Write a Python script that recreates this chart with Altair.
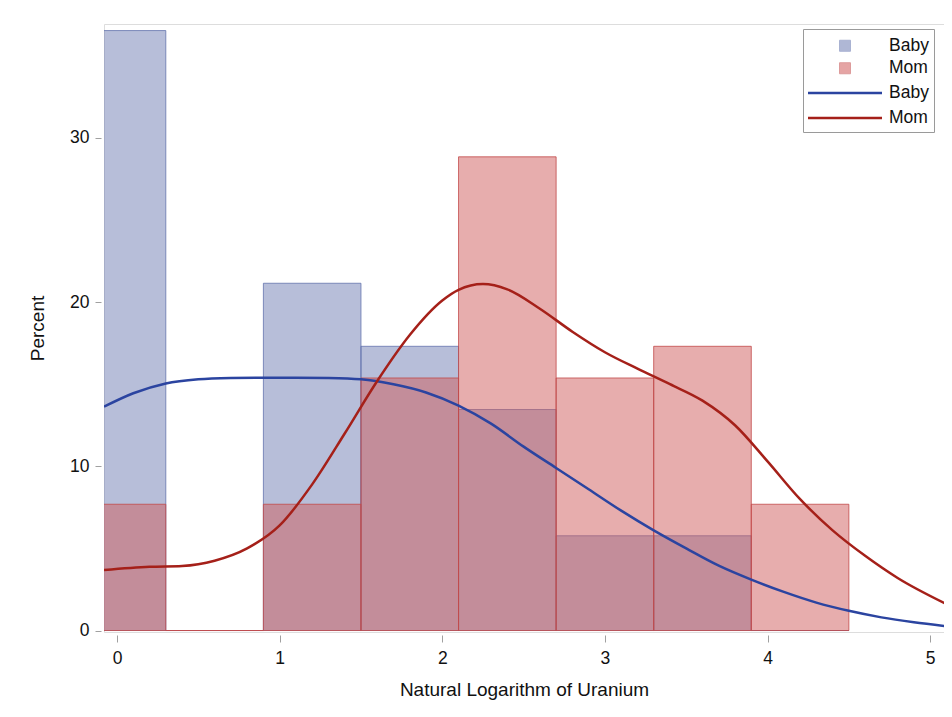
import altair as alt
import pandas as pd

# ---------------- data ----------------
bin_start = [-0.3, 0.3, 0.9, 1.5, 2.1, 2.7, 3.3, 3.9]
bin_end = [0.3, 0.9, 1.5, 2.1, 2.7, 3.3, 3.9, 4.5]
baby_pct = [36.54, 0.0, 21.15, 17.31, 13.46, 5.77, 5.77, 0.0]
mom_pct = [7.69, 0.0, 7.69, 15.38, 28.85, 15.38, 17.31, 7.69]

baby_kde_x = [-0.08, 0.1, 0.3, 0.5, 0.7, 0.9, 1.1, 1.3, 1.5, 1.7, 1.9, 2.1, 2.3, 2.5,
              2.7, 2.9, 3.1, 3.3, 3.5, 3.7, 3.9, 4.1, 4.3, 4.5, 4.7, 4.9, 5.09]
baby_kde_y = [13.63, 14.45, 15.05, 15.3, 15.38, 15.4, 15.4, 15.38, 15.3, 15.0, 14.5, 13.7, 12.6, 11.2,
              9.9, 8.6, 7.3, 6.1, 5.0, 3.95, 3.1, 2.35, 1.7, 1.2, 0.8, 0.5, 0.27]

mom_kde_x = [-0.08, 0.2, 0.4, 0.6, 0.8, 1.0, 1.2, 1.4, 1.6, 1.8, 2.0, 2.1, 2.25, 2.4,
             2.6, 2.8, 3.0, 3.2, 3.4, 3.6, 3.8, 4.0, 4.2, 4.4, 4.6, 4.8, 5.09]
mom_kde_y = [3.68, 3.88, 3.93, 4.25, 5.0, 6.4, 8.9, 12.0, 15.2, 18.0, 20.1, 20.75, 21.1, 20.78,
             19.6, 18.2, 16.95, 15.95, 15.0, 14.0, 12.5, 10.3, 8.0, 6.1, 4.55, 3.2, 1.66]

groups = ["Baby", "Mom"]
curve_keys = ["Baby curve", "Mom curve"]
fill_colors = ["#6F7EB3", "#D05B5B"]
outline_colors = ["#6474AE", "#C24A4A"]
line_colors = ["#2B44A0", "#A52019"]

# ---------------- tables ----------------
hist_rows = []
for grp, vals in zip(groups, (baby_pct, mom_pct)):
    for s, e, v in zip(bin_start, bin_end, vals):
        hist_rows.append({"group": grp, "start": s, "end": e, "pct": v})
hist_df = pd.DataFrame(hist_rows)

kde_rows = []
for key, xs, ys in zip(curve_keys, (baby_kde_x, mom_kde_x), (baby_kde_y, mom_kde_y)):
    for xv, yv in zip(xs, ys):
        kde_rows.append({"curve": key, "start": xv, "pct": yv})
kde_df = pd.DataFrame(kde_rows)

FONT = "Liberation Sans"
TXT = "#111111"
LABEL_FS = 17.5
TITLE_FS = 19

legend_hist = alt.Legend(
    title=None,
    orient="none",
    legendX=699,
    legendY=8,
    direction="vertical",
    padding=5,
    symbolType="square",
    symbolSize=121,
    symbolStrokeWidth=1,
    symbolOpacity=0.55,
    symbolOffset=28.25,
    labelOffset=35.25,
    rowPadding=3.5,
    labelFont=FONT,
    labelFontSize=LABEL_FS,
    labelColor=TXT,
    zindex=2,
)

legend_kde = alt.Legend(
    title=[" ", " "],
    titleLineHeight=22,
    titlePadding=10,
    titleFontSize=LABEL_FS,
    orient="none",
    legendX=699,
    legendY=5,
    direction="vertical",
    padding=5,
    strokeColor="#9a9a9a",
    symbolType="M-4.625,0H4.625",
    symbolSize=256,
    symbolStrokeWidth=2.5,
    symbolOffset=27.5,
    labelOffset=34.5,
    rowPadding=7,
    labelFont=FONT,
    labelFontSize=LABEL_FS,
    labelColor=TXT,
    labelExpr="split(datum.label, ' ')[0]",
    zindex=1,
)

x_axis = alt.Axis(
    values=[0, 1, 2, 3, 4, 5],
    title="Natural Logarithm of Uranium",
    grid=False,
    domain=False,
    offset=3,
    tickColor="#a0a0a0",
    tickSize=7,
    labelPadding=7,
    labelFont=FONT,
    labelFontSize=LABEL_FS,
    labelColor=TXT,
    titleFont=FONT,
    titleFontSize=TITLE_FS,
    titleFontWeight="normal",
    titleColor=TXT,
    titlePadding=14,
    format="d",
)
y_axis = alt.Axis(
    values=[0, 10, 20, 30],
    title="Percent",
    grid=False,
    domain=False,
    offset=3,
    tickColor="#a0a0a0",
    tickSize=6,
    labelPadding=6,
    labelFont=FONT,
    labelFontSize=LABEL_FS,
    labelColor=TXT,
    titleFont=FONT,
    titleFontSize=TITLE_FS,
    titleFontWeight="normal",
    titleColor=TXT,
    titlePadding=22,
    format="d",
)

x_scale = alt.Scale(domain=[-0.08, 5.085], nice=False, zero=False)
y_scale = alt.Scale(domain=[-0.09, 36.94], nice=False, zero=False)
fill_scale = alt.Scale(domain=groups, range=fill_colors)
outline_scale = alt.Scale(domain=groups, range=outline_colors)
line_scale = alt.Scale(domain=curve_keys, range=line_colors)

base_hist = alt.Chart(hist_df)


def fill_layer(g):
    return base_hist.transform_filter(alt.datum.group == g).mark_bar(
        fillOpacity=0.5, strokeWidth=0, clip=True
    ).encode(
        x=alt.X("start:Q", scale=x_scale, axis=x_axis),
        x2="end:Q",
        y=alt.Y("pct:Q", scale=y_scale, axis=y_axis, stack=None),
        y2=alt.Y2Datum(0),
        fill=alt.Fill("group:N", scale=fill_scale, legend=legend_hist),
    )


def outline_layer(g):
    return base_hist.transform_filter(alt.datum.group == g).mark_bar(
        filled=False, strokeWidth=1, strokeOpacity=0.8, clip=True
    ).encode(
        x=alt.X("start:Q", scale=x_scale, axis=x_axis),
        x2="end:Q",
        y=alt.Y("pct:Q", scale=y_scale, axis=y_axis, stack=None),
        y2=alt.Y2Datum(0),
        color=alt.Color("group:N", scale=outline_scale, legend=None),
    )


lines = alt.Chart(kde_df).mark_line(
    strokeWidth=2.5, clip=True, interpolate="monotone"
).encode(
    x=alt.X("start:Q", scale=x_scale, axis=x_axis),
    y=alt.Y("pct:Q", scale=y_scale, axis=y_axis),
    stroke=alt.Stroke("curve:N", scale=line_scale, legend=legend_kde),
)

chart = alt.layer(
    fill_layer("Baby"), outline_layer("Baby"),
    fill_layer("Mom"), outline_layer("Mom"),
    lines,
).properties(
    width=840,
    height=608,
    autosize=alt.AutoSizeParams(type="none"),
    padding={"left": 96, "top": 16, "right": 0, "bottom": 70},
).configure_view(stroke="#9a9a9a", strokeWidth=1).configure(background="white")

chart.save("out.html", embed_options={"renderer": "svg", "actions": False})
